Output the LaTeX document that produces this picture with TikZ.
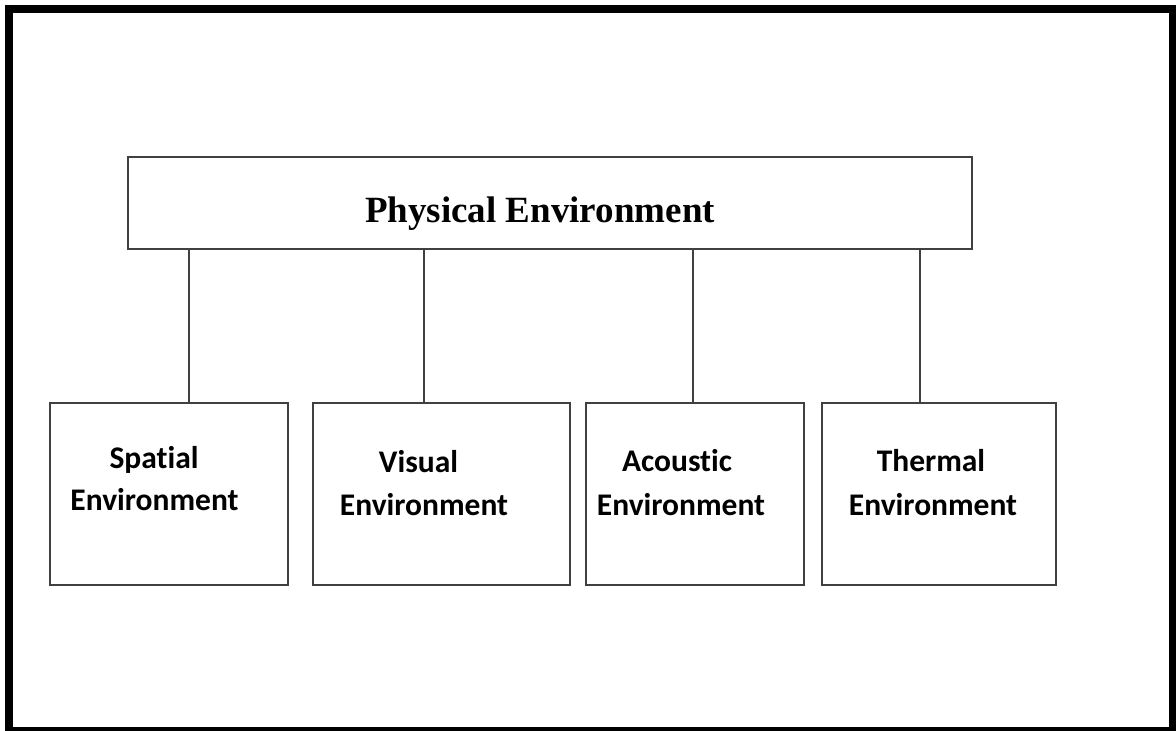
\documentclass[tikz,border=0pt]{standalone}
\usepackage{fontspec}
\newfontfamily\headfont{Liberation Serif}
\newfontfamily\boxfont[Ligatures=NoCommon]{Carlito}

\tikzset{
  envbox/.style={draw=black!75, line width=1pt, minimum height=91pt, inner sep=0pt},
  envtext/.style={font=\boxfont\bfseries\fontsize{15.75}{18}\selectfont, anchor=base, inner sep=0pt},
  link/.style={draw=black!75, line width=1pt},
}

\begin{document}
\begin{tikzpicture}[x=0.5pt, y=-0.5pt]
 \useasboundingbox (0,0) rectangle (1176,731);
 % outer frame
 \draw[line width=3.85pt] (8.8,8.8) rectangle (1172.8,730.5);

 % top box
 \node[envbox, minimum width=422pt, minimum height=46pt] (phys) at (550,203) {};
 \node[font=\headfont\bfseries\fontsize{18.5}{22}\selectfont, anchor=base, inner sep=0pt] (phys-t) at (540,223) {Physical Environment};

 % lower boxes
 \node[envbox, minimum width=119pt] (spatial) at (169,494) {};
 \node[envbox, minimum width=128.5pt] (visual) at (441.5,494) {};
 \node[envbox, minimum width=109pt] (acoustic) at (695,494) {};
 \node[envbox, minimum width=117pt] (thermal) at (939,494) {};

 \node[envtext] (spatial-t1) at (154,468) {Spatial};
 \node[envtext] (spatial-t2) at (154.5,510) {Environment};
 \node[envtext] (visual-t1) at (418.5,473) {Visual};
 \node[envtext] (visual-t2) at (424,515) {Environment};
 \node[envtext] (acoustic-t1) at (677,472) {Acoustic};
 \node[envtext] (acoustic-t2) at (681,515) {Environment};
 \node[envtext] (thermal-t1) at (931,472) {Thermal};
 \node[envtext] (thermal-t2) at (933,515) {Environment};

 % connectors
 \draw[link] ([xshift=10pt]spatial.north) -- ([xshift=10pt]spatial.north |- phys.south);
 \draw[link] ([xshift=-8.75pt]visual.north) -- ([xshift=-8.75pt]visual.north |- phys.south);
 \draw[link] ([xshift=-1pt]acoustic.north) -- ([xshift=-1pt]acoustic.north |- phys.south);
 \draw[link] ([xshift=-9.5pt]thermal.north) -- ([xshift=-9.5pt]thermal.north |- phys.south);
\end{tikzpicture}
\end{document}
